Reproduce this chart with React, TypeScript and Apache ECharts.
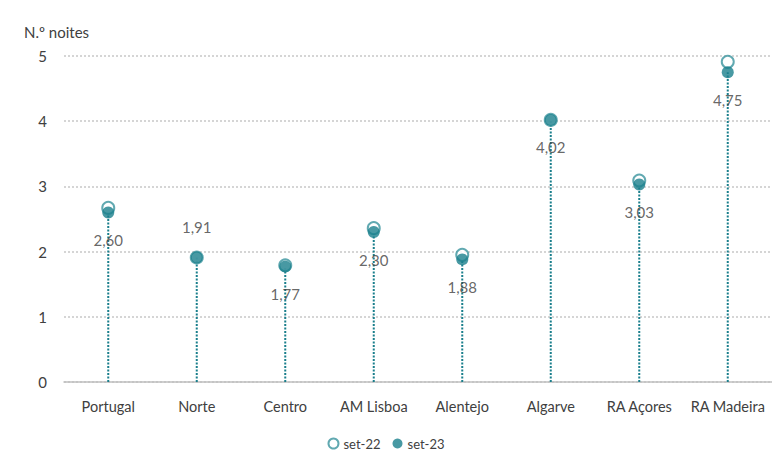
import React, { useEffect, useRef } from "react";
import * as echarts from "echarts";

const categories = ["Portugal", "Norte", "Centro", "AM Lisboa", "Alentejo", "Algarve", "RA Açores", "RA Madeira"];
const set22 = [2.67, 1.91, 1.79, 2.36, 1.95, 4.02, 3.09, 4.91];
const set23 = [2.6, 1.91, 1.77, 2.3, 1.88, 4.02, 3.03, 4.75];
const labelAbove = [false, true, false, false, false, false, false, false];
const yTicks = [0, 1, 2, 3, 4, 5];

const TEAL = "#1a7f8c";
const TEXT = "#404040";
const FONT = "Lato, 'Open Sans', sans-serif";

export default function App() {
  const ref = useRef<HTMLDivElement>(null);
  useEffect(() => {
    if (!ref.current) return;
    const chart = echarts.init(ref.current, undefined, { renderer: "svg" });
    const fmt = (v: number) => v.toFixed(2).replace(".", ",");
    chart.setOption({
      animation: false,
      backgroundColor: "#ffffff",
      textStyle: { fontFamily: FONT },
      title: {
        text: "N.º noites",
        left: 19,
        top: 19,
        textStyle: { fontSize: 15, fontWeight: "normal", color: TEXT, fontFamily: FONT },
      },
      grid: { left: 64, right: 0, top: 56, bottom: 74 },
      legend: {
        bottom: 1,
        left: "center",
        itemWidth: 10,
        itemHeight: 10,
        itemGap: 12,
        textStyle: { fontSize: 13, color: TEXT, fontFamily: FONT },
        data: [
          { name: "set-22", icon: "circle" },
          { name: "set-23", icon: "circle" },
        ],
      },
      xAxis: {
        type: "category",
        data: categories,
        axisLine: { lineStyle: { color: "#bfbfbf", width: 1.5 } },
        axisTick: { show: false },
        axisLabel: { color: TEXT, fontSize: 14.5, margin: 17, interval: 0, hideOverlap: false, fontFamily: FONT },
        splitLine: { show: false },
      },
      yAxis: {
        type: "value",
        min: yTicks[0],
        max: yTicks[yTicks.length - 1],
        interval: 1,
        axisLine: { show: false },
        axisTick: { show: false },
        axisLabel: { color: TEXT, fontSize: 15, margin: 17, fontFamily: FONT },
        splitLine: { lineStyle: { color: "#c8c8c8", type: [2, 2], width: 1.5 } },
      },
      series: [
        {
          type: "custom",
          name: "stems",
          renderItem: (params: any, api: any) => {
            const base = api.coord([api.value(0), 0]);
            const top = api.coord([api.value(0), api.value(1)]);
            return {
              type: "line",
              shape: { x1: base[0], y1: base[1], x2: top[0], y2: top[1] },
              style: { stroke: TEAL, lineWidth: 2, lineDash: [2, 1.5] },
            };
          },
          data: set23.map((v, i) => [i, v]),
          z: 1,
          silent: true,
        },
        {
          type: "scatter",
          name: "set-22",
          data: set22,
          symbol: "circle",
          symbolSize: 12,
          itemStyle: { color: "#ffffff", borderColor: "#3a939e", borderWidth: 2 },
          z: 2,
        },
        {
          type: "scatter",
          name: "set-23",
          data: set23.map((v, i) => ({
            value: v,
            label: {
              position: labelAbove[i] ? "top" : "bottom",
              distance: labelAbove[i] ? 17 : 14,
            },
          })),
          symbol: "circle",
          symbolSize: 12,
          itemStyle: { color: TEAL },
          label: {
            show: true,
            color: TEXT,
            fontSize: 15,
            fontFamily: FONT,
            formatter: (p: any) => fmt(p.value),
          },
          z: 3,
        },
      ],
    });
    return () => chart.dispose();
  }, []);
  return <div ref={ref} style={{ position: "fixed", left: 0, top: 0, width: 772, height: 456 }} />;
}
